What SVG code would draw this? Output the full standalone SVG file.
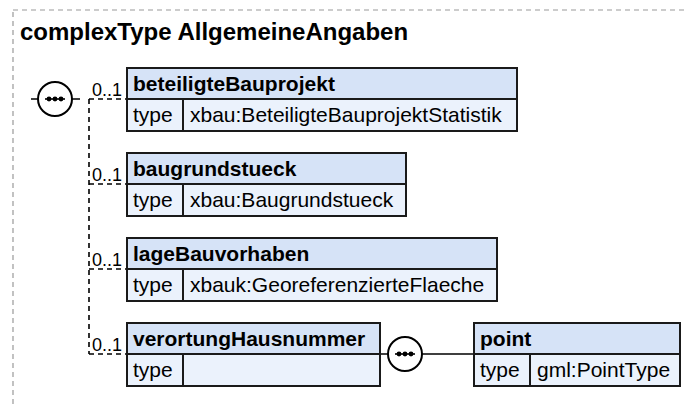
<svg xmlns="http://www.w3.org/2000/svg" width="686" height="407" viewBox="0 0 686 407">
<style>
text { font-family: "Liberation Sans", Arial, sans-serif; fill: #000; }
.title { font-size: 24px; font-weight: bold; }
.name { font-size: 21px; font-weight: bold; }
.cell { font-size: 21px; }
.card { font-size: 18px; }
.hdr { fill: #d6e3f7; stroke: #1a1a1a; stroke-width: 2; }
.row { fill: #ebf2fc; stroke: #1a1a1a; stroke-width: 2; }
.dash { fill: none; stroke: #000; stroke-width: 1.6; stroke-dasharray: 5 4; }
.solid { fill: none; stroke: #000; stroke-width: 1.6; }
.seq { fill: #fff; stroke: #000; stroke-width: 2; }
</style>
<defs>
  <g id="seqicon">
    <circle class="seq" cx="0" cy="0" r="17"/>
    <line x1="-10" y1="0" x2="10" y2="0" stroke="#000" stroke-width="1.6"/>
    <circle cx="-6" cy="0" r="2.4"/>
    <circle cx="0" cy="0" r="2.4"/>
    <circle cx="6" cy="0" r="2.4"/>
  </g>
</defs>
<rect x="13" y="10" width="720" height="440" fill="none" stroke="#999" stroke-width="1.2" stroke-dasharray="5 4"/>
<text class="title" x="20" y="40">complexType AllgemeineAngaben</text>

<g id="connectors">
  <path class="solid" d="M31 99 H38 M72 99 H80"/>
  <path class="dash" d="M89 99 V354"/>
  <path class="dash" d="M89 99 H127 M89 184 H127 M89 269 H127 M89 354 H127"/>
  <path class="solid" d="M380 354 H388 M422 354 H474"/>
  <text class="card" x="92" y="96">0..1</text>
  <text class="card" x="92" y="181">0..1</text>
  <text class="card" x="92" y="266">0..1</text>
  <text class="card" x="92" y="351">0..1</text>
</g>

<g id="seq1"><use href="#seqicon" x="55" y="99"/></g>

<g id="beteiligteBauprojekt">
  <rect class="hdr" x="127" y="68" width="390" height="31"/>
  <rect class="row" x="127" y="99" width="390" height="32"/>
  <line x1="183" y1="99" x2="183" y2="131" stroke="#1a1a1a" stroke-width="2"/>
  <text class="name" x="133" y="91">beteiligteBauprojekt</text>
  <text class="cell" x="133" y="122">type</text>
  <text class="cell" x="190" y="122">xbau:BeteiligteBauprojektStatistik</text>
</g>

<g id="baugrundstueck">
  <rect class="hdr" x="127" y="153" width="279" height="31"/>
  <rect class="row" x="127" y="184" width="279" height="32"/>
  <line x1="183" y1="184" x2="183" y2="216" stroke="#1a1a1a" stroke-width="2"/>
  <text class="name" x="133" y="176">baugrundstueck</text>
  <text class="cell" x="133" y="207">type</text>
  <text class="cell" x="190" y="207">xbau:Baugrundstueck</text>
</g>

<g id="lageBauvorhaben">
  <rect class="hdr" x="127" y="238" width="370" height="31"/>
  <rect class="row" x="127" y="269" width="370" height="32"/>
  <line x1="183" y1="269" x2="183" y2="301" stroke="#1a1a1a" stroke-width="2"/>
  <text class="name" x="133" y="261">lageBauvorhaben</text>
  <text class="cell" x="133" y="292">type</text>
  <text class="cell" x="190" y="292">xbauk:GeoreferenzierteFlaeche</text>
</g>

<g id="verortungHausnummer">
  <rect class="hdr" x="127" y="323" width="253" height="31"/>
  <rect class="row" x="127" y="354" width="253" height="32"/>
  <line x1="183" y1="354" x2="183" y2="386" stroke="#1a1a1a" stroke-width="2"/>
  <text class="name" x="133" y="346">verortungHausnummer</text>
  <text class="cell" x="133" y="377">type</text>
</g>

<g id="seq2"><use href="#seqicon" x="405" y="354"/></g>

<g id="point">
  <rect class="hdr" x="474" y="323" width="206" height="31"/>
  <rect class="row" x="474" y="354" width="206" height="32"/>
  <line x1="530" y1="354" x2="530" y2="386" stroke="#1a1a1a" stroke-width="2"/>
  <text class="name" x="480" y="346">point</text>
  <text class="cell" x="480" y="377">type</text>
  <text class="cell" x="537" y="377">gml:PointType</text>
</g>
</svg>
